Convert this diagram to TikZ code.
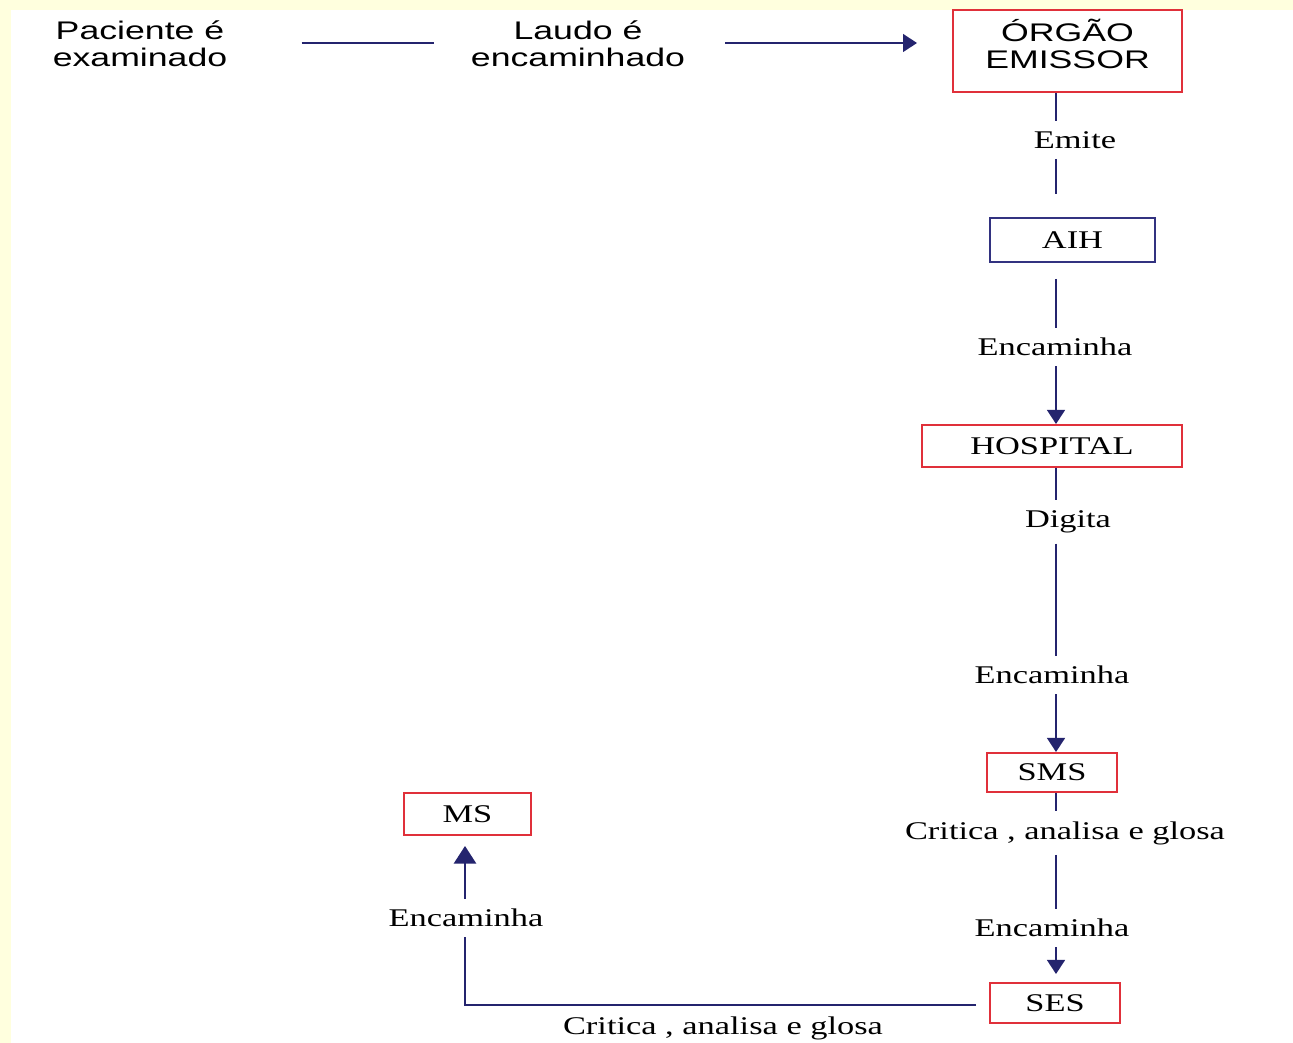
\documentclass[tikz,border=0pt]{standalone}
\usepackage{fontspec}
\usepackage{xcolor}
\usepackage{tikz}
\usetikzlibrary{arrows.meta}
\newfontfamily\sansfnt[FakeStretch=1.4]{Liberation Sans}
\newfontfamily\seriffnt[FakeStretch=1.35]{Liberation Serif}

\begin{document}
\begin{tikzpicture}[x = 0.02cm, y = -0.02cm,
  box/.style = {draw = boxRed, line width = 1.1pt, inner sep = 0pt,
    font = \seriffnt\fontsize{14.5}{16}\selectfont},
  link/.style = {draw = linkBlue, line width = 1.5pt},
  flow/.style = {link, -{Triangle[width = 10pt, length = 8pt]}},
  bigflow/.style = {link, -{Triangle[width = 12.5pt, length = 10pt]}},
  lbl/.style = {inner xsep = 0pt, inner ysep = 0.2cm,
    font = \seriffnt\fontsize{14.5}{16}\selectfont},
  sanstxt/.style = {inner sep = 0pt, align = center,
    font = \sansfnt\fontsize{14.5}{15.5}\selectfont}]
  \definecolor{bgYellow}{RGB}{255, 255, 222};
  \definecolor{boxRed}{RGB}{224, 48, 58};
  \definecolor{boxBlue}{RGB}{50, 50, 128};
  \definecolor{linkBlue}{RGB}{36, 36, 110};

  \fill[bgYellow] (0, 0) rectangle (1293, 1043);
  \fill[white] (11, 10) rectangle (1293, 1043);
  \useasboundingbox (0, 0) rectangle (1293, 1043);

  \coordinate (spine) at (1056, 0);
  \coordinate (corner) at (465, 1005);

  \node[sanstxt] (paciente) at (140, 44) {Paciente é\\examinado};
  \node[sanstxt] (laudo) at (578, 44) {Laudo é\\encaminhado};

  \node[box, align = center, minimum width = 4.58cm, minimum height = 1.64cm, text depth = 0.28cm,
    font = \sansfnt\fontsize{14.5}{15.5}\selectfont] (orgao) at (1067.5, 51) {ÓRGÃO\\EMISSOR};
  \node[box, draw = boxBlue, minimum width = 3.3cm, minimum height = 0.88cm] (aih) at (1072.5, 240) {AIH};
  \node[box, minimum width = 5.2cm, minimum height = 0.84cm] (hospital) at (1052, 446) {HOSPITAL};
  \node[box, minimum width = 2.6cm, minimum height = 0.78cm] (sms) at (1052, 772.5) {SMS};
  \node[box, minimum width = 2.6cm, minimum height = 0.8cm] (ses) at (1055, 1003) {SES};
  \node[box, minimum width = 2.54cm, minimum height = 0.84cm] (ms) at (467.5, 814) {MS};

  \node[lbl] (emite) at (1075, 140) {Emite};
  \node[lbl] (encAih) at (1055, 347) {Encaminha};
  \node[lbl] (digita) at (1068, 522) {Digita};
  \node[lbl] (encHosp) at (1052, 675) {Encaminha};
  \node[lbl] (criticaSms) at (1065, 833) {Critica , analisa e glosa};
  \node[lbl] (encSms) at (1052, 928) {Encaminha};
  \node[lbl] (encSes) at (466, 918) {Encaminha};
  \node[lbl, inner ysep = 0pt] (criticaSes) at (723, 1028) {Critica , analisa e glosa};

  % top row
  \draw[link, shorten <= 1.48cm, shorten >= 0.74cm] (paciente.east |- 0, 43) -- (laudo.west |- 0, 43);
  \draw[flow, shorten <= 0.8cm, shorten >= 0.7cm] (laudo.east |- 0, 43) -- (orgao.west |- 0, 43);

  % right column
  \draw[link] (spine |- orgao.south) -- (spine |- emite.north);
  \draw[link, shorten >= 0.46cm] (spine |- emite.south) -- (spine |- aih.north);
  \draw[link, shorten <= 0.32cm] (spine |- aih.south) -- (spine |- encAih.north);
  \draw[flow] (spine |- encAih.south) -- (spine |- hospital.north);
  \draw[link] (spine |- hospital.south) -- (spine |- digita.north);
  \draw[link] (spine |- digita.south) -- (spine |- encHosp.north);
  \draw[flow] (spine |- encHosp.south) -- (spine |- sms.north);
  \draw[link] (spine |- sms.south) -- (spine |- criticaSms.north);
  \draw[link] (spine |- criticaSms.south) -- (spine |- encSms.north);
  \draw[flow, shorten >= 0.16cm] (spine |- encSms.south) -- (spine |- ses.north);

  % back to MS
  \draw[link, shorten <= 0.26cm] (ses.west |- corner) -- (corner) -- (corner |- encSes.south);
  \draw[bigflow, shorten >= 0.2cm] (corner |- encSes.north) -- (corner |- ms.south);
\end{tikzpicture}
\end{document}
